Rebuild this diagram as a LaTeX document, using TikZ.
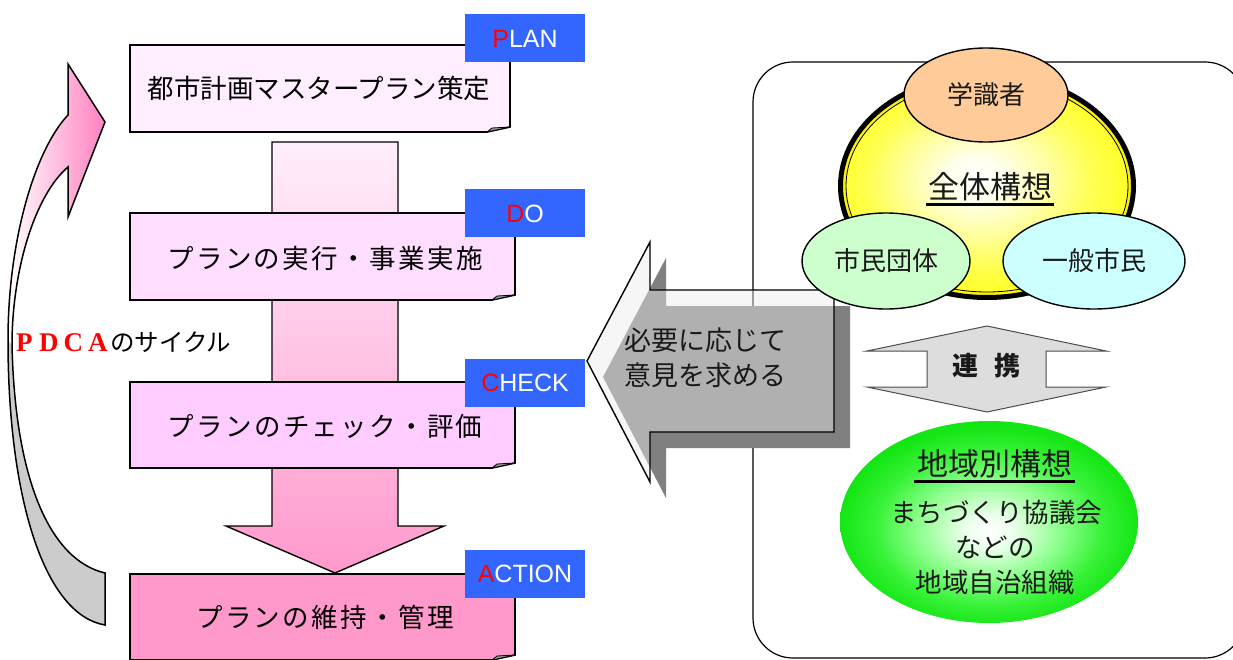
\documentclass[tikz,border=0pt]{standalone}
\usepackage{fontspec}
\setmainfont{Liberation Sans}
\newfontfamily\jp{Noto Sans CJK JP}
\newfontfamily\serifL{Liberation Serif}
\usetikzlibrary{shapes.geometric}
\definecolor{lblblue}{HTML}{3366FF}
\definecolor{boxA}{HTML}{FFEEFF}
\definecolor{boxB}{HTML}{FFDDFF}
\definecolor{boxC}{HTML}{FFCCFF}
\definecolor{boxD}{HTML}{FF99CC}
\definecolor{shaftTop}{HTML}{FFEEFC}
\definecolor{orangeE}{HTML}{FFCC99}
\definecolor{greenE}{HTML}{CCFFCC}
\definecolor{cyanE}{HTML}{CCFFFF}
\definecolor{shadowG}{HTML}{808080}
\definecolor{lightG}{HTML}{DDDDDD}
\definecolor{pinkArrow}{HTML}{FF80C0}
\definecolor{foldG}{HTML}{999999}
\definecolor{txt}{HTML}{1A1A1A}
\pgfdeclareradialshading{yelrad}{\pgfpoint{-2bp}{2bp}}{rgb(0bp)=(1,1,1); rgb(5bp)=(1,1,0.93); rgb(13bp)=(1,1,0.62); rgb(20bp)=(1,1,0.32); rgb(25bp)=(1,1,0.18); rgb(50bp)=(1,1,0.18)}
\pgfdeclareradialshading{grnrad}{\pgfpoint{0bp}{-2.5bp}}{rgb(0bp)=(1,1,1); rgb(4bp)=(0.93,1,0.93); rgb(12bp)=(0.55,1,0.55); rgb(19bp)=(0.22,0.95,0.22); rgb(25bp)=(0.08,0.9,0.08); rgb(50bp)=(0.08,0.9,0.08)}
\begin{document}
\begin{tikzpicture}[x=1pt,y=-1pt,
  pbox/.style={draw=black, line width=1.6pt},
  fold/.style={fill=foldG, draw=black, line width=0.8pt},
  lbl/.style={fill=lblblue, minimum width=120pt, minimum height=48pt, inner sep=0pt, text=white, font=\fontsize{25}{28}\selectfont},
  boxtext/.style={inner sep=0pt, text=black, font=\jp\fontsize{26.5}{30}\selectfont\addfontfeature{LetterSpace=9}},
  ell/.style={ellipse, draw=black, line width=1.4pt, inner sep=0pt, text=txt, font=\jp\fontsize{26}{30}\selectfont},
  rtext/.style={inner sep=0pt, text=txt, font=\jp\fontsize{26.5}{30}\selectfont},
  bigtext/.style={inner sep=0pt, text=txt, font=\jp\fontsize{31}{35}\selectfont}]
\useasboundingbox (0,0) rectangle (1233,660);

% ---------- left column: vertical flow arrow ----------
\shadedraw[top color=shaftTop, bottom color=boxD, draw=black, line width=1.4pt]
  (272,142) -- (398,142) -- (398,526) -- (444,526) -- (335,573) -- (226,526) -- (272,526) -- cycle;

% boxes
\draw[pbox, fill=boxA] (130,45) -- (510,45) -- (510,127) -- (487,132) -- (130,132) -- cycle;
\filldraw[fold] (510,127) -- (487,132) -- (492,128) -- cycle;
\draw[pbox, fill=boxB] (130,213) -- (515,213) -- (515,295) -- (492,300) -- (130,300) -- cycle;
\filldraw[fold] (515,295) -- (492,300) -- (497,296) -- cycle;
\draw[pbox, fill=boxC] (130,382) -- (515,382) -- (515,463) -- (492,468) -- (130,468) -- cycle;
\filldraw[fold] (515,463) -- (492,468) -- (497,464) -- cycle;
\draw[pbox, fill=boxD] (130,574) -- (515,574) -- (515,655) -- (492,660) -- (130,660) -- cycle;
\filldraw[fold] (515,655) -- (492,660) -- (497,656) -- cycle;

\node[inner sep=0pt, font=\jp\fontsize{26.5}{30}\selectfont] (t1) at (319,88) {都市計画マスタープラン策定};
\node[boxtext] (t2) at (325,258) {プランの実行・事業実施};
\node[boxtext] (t3) at (325,426) {プランのチェック・評価};
\node[boxtext] (t4) at (325,617) {プランの維持・管理};

% labels
\node[lbl] (plan) at (525,38.5) {\textcolor{red}{P}LAN};
\node[lbl] (do) at (525,213.5) {\textcolor{red}{D}O};
\node[lbl] (check) at (525,382.5) {\textcolor{red}{C}HECK};
\node[lbl] (action) at (525,574) {\textcolor{red}{A}CTION};

% ---------- curved PDCA arrow ----------
\shade[left color=white, right color=pinkArrow]
  (8,340) .. controls (8,240) and (35,150) .. (68,115) -- (68,64) -- (105,122) -- (68,217) -- (68,167)
  .. controls (35,195) and (12,270) .. (12,345) -- cycle;
\fill[black!20]
  (8,340) .. controls (8,500) and (45,615) .. (105,625) -- (105,573)
  .. controls (50,560) and (15,480) .. (12,345) -- cycle;
\draw[line width=1.5pt, line join=miter]
  (105,625) .. controls (45,615) and (8,500) .. (8,340)
  .. controls (8,240) and (35,150) .. (68,115) -- (68,64) -- (105,122) -- (68,217) -- (68,167)
  .. controls (35,195) and (12,270) .. (12,345)
  .. controls (15,480) and (50,560) .. (105,573) -- cycle;

\node[anchor=west, inner sep=0pt] (pdca) at (12,342)
  {\color{red}\serifL\bfseries\fontsize{27}{28}\selectfont\makebox[24.5pt]{P}\makebox[24.5pt]{D}\makebox[24.5pt]{C}\makebox[24.5pt]{A}\color{black}\jp\mdseries\fontsize{24.5}{28}\selectfont のサイクル};

% ---------- right panel ----------
\draw[line width=1.2pt, rounded corners=40pt] (753,62) rectangle (1245,658);

% gray arrow with shadow
\fill[shadowG] (603,377) -- (666,258) -- (666,306) -- (850,306) -- (850,448) -- (666,448) -- (666,498) -- cycle;
\filldraw[fill=black!8, fill opacity=0.45, draw=black, line width=1.4pt]
  (587,361) -- (650,242) -- (650,290) -- (834,290) -- (834,432) -- (650,432) -- (650,482) -- cycle;
\node[anchor=west, inner sep=0pt, align=left, text=txt, font=\jp\fontsize{27}{35}\selectfont] (ask) at (624,357.5) {必要に応じて\\意見を求める};

% yellow ellipse
\shade[shading=yelrad] (987,186) ellipse [x radius=141pt, y radius=106pt];
\draw[yellow, line width=3pt] (987,186) ellipse [x radius=142.5pt, y radius=107.5pt];
\draw[black, line width=0.8pt] (987,186) ellipse [x radius=141pt, y radius=106pt];
\draw[black, line width=5pt] (987,186) ellipse [x radius=146.5pt, y radius=111.5pt];
\node[bigtext] (zentai) at (990,187) {全体構想};
\draw[line width=3pt] ([xshift=-2pt,yshift=-6pt]zentai.base west) -- ([xshift=2pt,yshift=-6pt]zentai.base east);

\node[ell, fill=orangeE, minimum width=164pt, minimum height=94pt] (gaku) at (986,95) {学識者};
\node[ell, fill=greenE, minimum width=168pt, minimum height=96pt] (shimin) at (886,261) {市民団体};
\node[ell, fill=cyanE, minimum width=182pt, minimum height=96pt] (ippan) at (1094,261) {一般市民};

% renkei double arrow
\filldraw[fill=lightG, draw=black!70, line width=1pt]
  (987,326) -- (1106,351) -- (1046,351) -- (1046,387) -- (1106,387) -- (987,412)
  -- (867,387) -- (927,387) -- (927,351) -- (867,351) -- cycle;
\node[inner sep=0pt, text=txt, font=\jp\bfseries\fontsize{26}{30}\selectfont] (renkei) at (986,366) {連\hspace{16pt}携};

% green ellipse
\shade[shading=grnrad] (989,522) ellipse [x radius=149pt, y radius=101pt];
\node[bigtext] (chiiki) at (995,464) {地域別構想};
\draw[line width=3pt] ([xshift=-3pt,yshift=-6pt]chiiki.base west) -- ([xshift=2pt,yshift=-6pt]chiiki.base east);
\node[rtext] (machi) at (996,513) {まちづくり協議会};
\node[rtext] (nado) at (995,547) {などの};
\node[rtext] (soshiki) at (995,582) {地域自治組織};
\end{tikzpicture}
\end{document}
